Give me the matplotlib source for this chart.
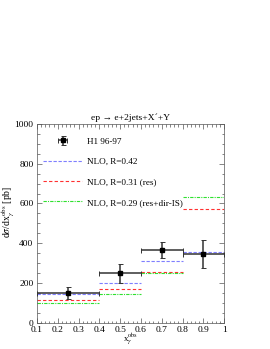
import numpy as np
import matplotlib.pyplot as plt
from matplotlib.ticker import MultipleLocator

plt.rcParams['font.family'] = ['Liberation Serif', 'DejaVu Serif']
plt.rcParams['mathtext.fontset'] = 'stix'

# bins in x_gamma^obs
bin_lo = np.array([0.1, 0.4, 0.6, 0.8])
bin_hi = np.array([0.4, 0.6, 0.8, 1.0])

# H1 96-97 data
h1_x = np.array([0.25, 0.5, 0.7, 0.9])
h1_y = np.array([148, 248, 368, 348])
h1_err = np.array([30, 50, 40, 70])

# NLO predictions
nlo_042 = np.array([145, 200, 310, 358])
nlo_031_res = np.array([117, 170, 255, 573])
nlo_029_resdir = np.array([100, 145, 248, 635])

fig = plt.figure(figsize=(2.7, 3.49), dpi=100)
ax = fig.add_axes([0.137, 0.075, 0.693, 0.57])

ax.hlines(nlo_042, bin_lo, bin_hi, colors='#7f7fff', linestyles=(0, (3, 1.5)), lw=0.8,
          label='NLO, R=0.42')
ax.hlines(nlo_031_res, bin_lo, bin_hi, colors='#ff3030', linestyles=(0, (3, 2)), lw=0.8,
          label='NLO, R=0.31 (res)')
ax.hlines(nlo_029_resdir, bin_lo, bin_hi, colors='#30e030', linestyles=(0, (3, 1, 1, 1)), lw=0.8,
          label='NLO, R=0.29 (res+dir-IS)')

xerr = [h1_x - bin_lo, bin_hi - h1_x]
ax.errorbar(h1_x, h1_y, yerr=h1_err, xerr=xerr, fmt='s', color='k', ms=2.5,
            ecolor='#333333', elinewidth=1.1, capsize=1.8, capthick=0.7,
            label='H1 96-97', zorder=5)

ax.set_xlim(0.1, 1.0)
ax.set_ylim(0, 1000)
ax.set_xticks(np.arange(0.1, 1.01, 0.1))
ax.set_xticklabels(['0.1', '0.2', '0.3', '0.4', '0.5', '0.6', '0.7', '0.8', '0.9', '1'])
ax.set_yticks([0, 200, 400, 600, 800, 1000])
ax.xaxis.set_minor_locator(MultipleLocator(0.02))
ax.yaxis.set_minor_locator(MultipleLocator(50))
ax.tick_params(which='both', direction='in', top=True, right=True, width=0.5, colors='#555555',
               labelcolor='k')
ax.tick_params(which='major', labelsize=6.8, length=3.5, pad=2)
ax.tick_params(axis='y', which='major', pad=2.5)
ax.tick_params(which='minor', length=1.8)
for s in ax.spines.values():
    s.set_linewidth(0.5)
    s.set_color('#555555')

ax.set_title('ep \u2192 e+2jets+X\u00b4+Y', fontsize=6.8, pad=3)
ax.set_ylabel(r'd$\sigma$/dx$_\gamma^{\rm obs}$ [pb]', fontsize=7, labelpad=1)
ax.yaxis.set_label_coords(-0.105, 0.56)
ax.set_xlabel(r'x$_\gamma^{\rm obs}$', fontsize=6.4)
ax.xaxis.set_label_coords(0.5, -0.048)

handles, labels = ax.get_legend_handles_labels()
order = [3, 0, 1, 2]
ax.legend([handles[i] for i in order], [labels[i] for i in order], loc='upper left',
          bbox_to_anchor=(0.0, 0.965), frameon=False, fontsize=6.6, handlelength=4.2,
          handletextpad=0.6, labelspacing=1.3, borderaxespad=0.3)

fig.savefig('out.png', dpi=100)
